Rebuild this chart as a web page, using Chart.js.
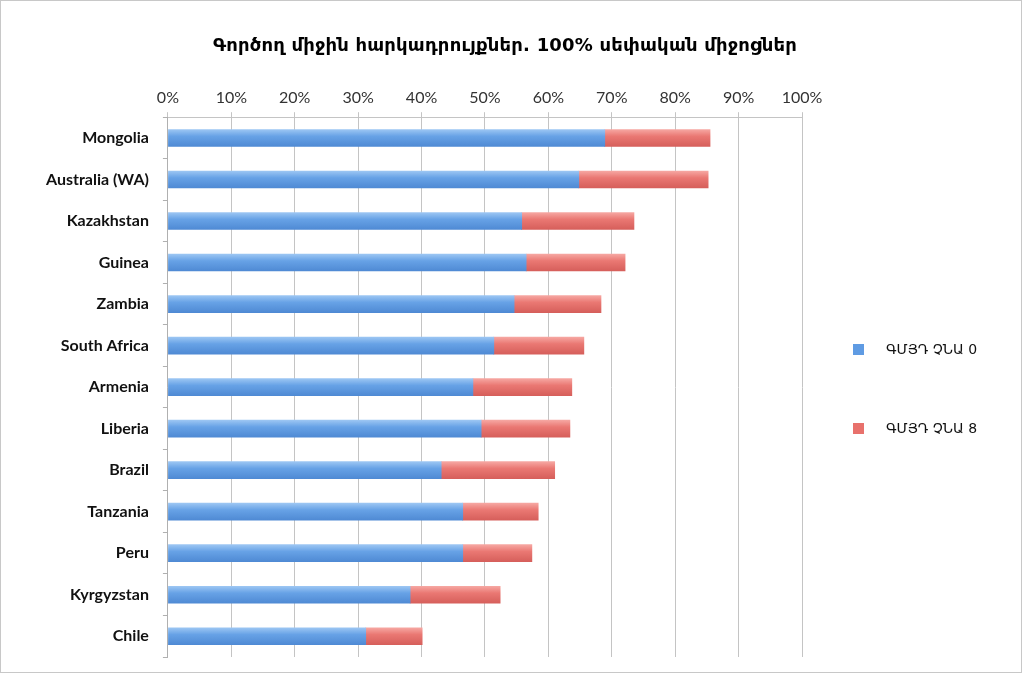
<!DOCTYPE html>
<html>
<head>
<meta charset="utf-8">
<script src="https://cdn.jsdelivr.net/npm/chart.js@4.4.1/dist/chart.umd.min.js"></script>
<style>
  html, body { margin: 0; padding: 0; background: #fff; }
  #wrap {
    position: relative;
    width: 1022px;
    height: 673px;
    box-sizing: border-box;
    border: 1px solid #c8c8c8;
  }
  #chart { display: block; }
  #title {
    position: absolute;
    left: -6px;
    width: 1020px;
    top: 33px;
    text-align: center;
    font-family: 'DejaVu Sans', 'Noto Sans', sans-serif;
    font-weight: bold;
    font-size: 18px;
    letter-spacing: 0.2px;
    color: #000;
  }
  #legend {
    position: absolute;
    left: 852px;
    top: 338px;
    font-family: 'DejaVu Sans', 'Noto Sans', sans-serif;
    font-size: 14px;
    color: #111;
  }
  .legend-item { display: flex; align-items: center; height: 20px; margin-bottom: 59px; }
  .legend-box { width: 11px; height: 11px; margin-right: 22px; }
</style>
</head>
<body>
<div id="wrap">
  <canvas id="chart" width="1020" height="671"></canvas>
  <div id="title"></div>
  <div id="legend"></div>
</div>
<script>
  const categories = ['Mongolia', 'Australia (WA)', 'Kazakhstan', 'Guinea', 'Zambia', 'South Africa',
    'Armenia', 'Liberia', 'Brazil', 'Tanzania', 'Peru', 'Kyrgyzstan', 'Chile'];
  // ԳՄՅԴ ՉՆԱ 0 (blue part)
  const seriesBase = [68.9, 64.8, 55.8, 56.5, 54.6, 51.4, 48.1, 49.4, 43.1, 46.5, 46.5, 38.2, 31.2];
  // ԳՄՅԴ ՉՆԱ 8 (red part, stacked on top)
  const seriesExtra = [16.6, 20.4, 17.7, 15.6, 13.7, 14.2, 15.6, 14.0, 17.9, 11.9, 10.9, 14.2, 8.9];
  const seriesNames = ['ԳՄՅԴ ՉՆԱ 0', 'ԳՄՅԴ ՉՆԱ 8'];
  const tickValues = [0, 10, 20, 30, 40, 50, 60, 70, 80, 90, 100];
  const titleText = 'Գործող միջին հարկադրույքներ. 100% սեփական միջոցներ';

  const BAR_H = 17;
  const COLORS = [
    { top: '#9cc6f3', mid: '#67a2e6', bottom: '#4f8ad4', flat: '#5f9be3' },
    { top: '#f6a7a2', mid: '#ea7873', bottom: '#d65f5b', flat: '#e8716c' }
  ];

  // мʼякий вертикальний градієнт, як у старому Excel
  function barGradient(ctx, c) {
    const chart = ctx.chart;
    const yScale = chart.scales && chart.scales.y;
    if (!yScale || ctx.dataIndex === undefined) return c.flat;
    const yc = yScale.getPixelForValue(ctx.dataIndex);
    if (!isFinite(yc)) return c.flat;
    const g = chart.ctx.createLinearGradient(0, yc - BAR_H / 2, 0, yc + BAR_H / 2);
    g.addColorStop(0, c.top);
    g.addColorStop(0.4, c.mid);
    g.addColorStop(1, c.bottom);
    return g;
  }

  const datasets = [seriesBase, seriesExtra].map((data, i) => ({
    label: seriesNames[i],
    data: data,
    backgroundColor: ctx => barGradient(ctx, COLORS[i]),
    borderWidth: 0,
    barThickness: BAR_H
  }));

  new Chart(document.getElementById('chart'), {
    type: 'bar',
    data: { labels: categories, datasets: datasets },
    options: {
      indexAxis: 'y',
      responsive: false,
      animation: false,
      layout: { padding: { left: 31, right: 219, top: 82, bottom: 15 } },
      plugins: {
        legend: { display: false },
        tooltip: { enabled: false },
        title: { display: false }
      },
      scales: {
        x: {
          position: 'top',
          stacked: true,
          min: 0,
          max: 100,
          afterBuildTicks: axis => { axis.ticks = tickValues.map(v => ({ value: v })); },
          ticks: {
            callback: v => v + '%',
            color: '#333',
            padding: 5,
            font: { family: "Lato, 'Liberation Sans', sans-serif", size: 16 }
          },
          grid: { color: '#c4c4c4', lineWidth: 1, tickLength: 5 },
          border: { color: '#c4c4c4' }
        },
        y: {
          stacked: true,
          // прибираємо зайвий відступ під підписи, щоб рядки зайняли всю висоту
          afterFit: axis => { axis.paddingTop = 0; axis.paddingBottom = 0; },
          ticks: {
            color: '#111',
            padding: 14,
            font: { family: "Lato, 'Liberation Sans', sans-serif", size: 16, weight: 'bold' }
          },
          grid: { drawOnChartArea: false, drawTicks: true, tickLength: 5, color: '#b0b0b0', offset: true },
          border: { color: '#b0b0b0' }
        }
      }
    }
  });

  document.getElementById('title').textContent = titleText;
  const legend = document.getElementById('legend');
  seriesNames.forEach((name, i) => {
    const item = document.createElement('div');
    item.className = 'legend-item';
    item.innerHTML = `<span class="legend-box" style="background:${COLORS[i].flat}"></span><span>${name}</span>`;
    legend.appendChild(item);
  });
</script>
</body>
</html>
